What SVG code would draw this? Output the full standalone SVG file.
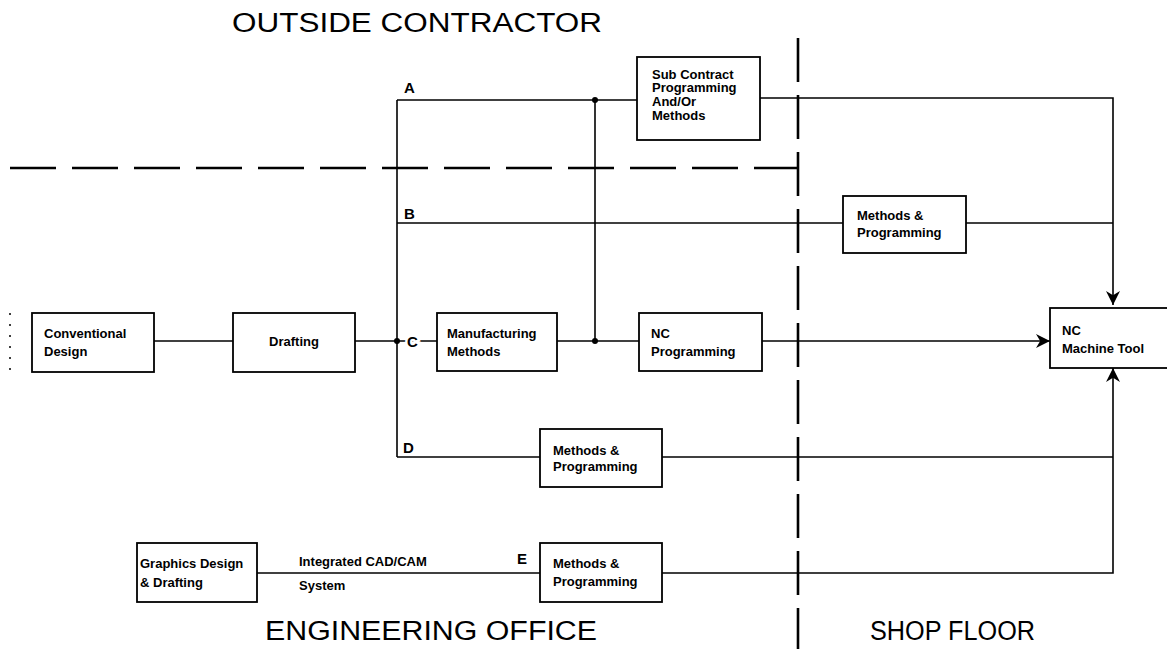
<svg xmlns="http://www.w3.org/2000/svg" width="1167" height="649" viewBox="0 0 1167 649">
<defs>
<marker id="arr" viewBox="0 0 10 10" refX="10" refY="5" markerWidth="14" markerHeight="14" markerUnits="userSpaceOnUse" orient="auto">
<path d="M0,0 L10,5 L0,10 L3,5 Z" fill="#000"/>
</marker>
</defs>
<style>
.box{fill:#fff;stroke:#000;stroke-width:1.8}
.ln{fill:none;stroke:#000;stroke-width:1.6}
.dash{fill:none;stroke:#000;stroke-width:2.6;stroke-dasharray:46 16}
.t{font-family:"Liberation Sans",Arial,sans-serif;font-size:13px;font-weight:bold;fill:#000}
.lbl{font-family:"Liberation Sans",Arial,sans-serif;font-size:15px;font-weight:bold;fill:#000}
.halo{paint-order:stroke;stroke:#fff;stroke-width:5px}
.title{font-family:"Liberation Sans",Arial,sans-serif;font-size:27px;fill:#000}
.dot{fill:#000}
</style>
<rect width="1167" height="649" fill="#fff"/>

<g id="dividers">
<line class="dash" x1="10" y1="168" x2="798" y2="168"/>
<line class="dash" x1="798" y1="38" x2="798" y2="649" style="stroke-dasharray:44 13"/>
<line x1="10" y1="313" x2="10" y2="372" stroke="#000" stroke-width="1.5" stroke-dasharray="2 9"/>
</g>

<g id="titles">
<text class="title" x="232" y="32" textLength="370" lengthAdjust="spacingAndGlyphs">OUTSIDE CONTRACTOR</text>
<text class="title" x="265" y="640" textLength="332" lengthAdjust="spacingAndGlyphs">ENGINEERING OFFICE</text>
<text class="title" x="870" y="640" textLength="165" lengthAdjust="spacingAndGlyphs">SHOP FLOOR</text>
</g>

<g id="connectors">
<polyline class="ln" points="397,100 397,457"/>
<line class="ln" x1="397" y1="100" x2="637" y2="100"/>
<polyline class="ln" points="760,98 1113,98 1113,305" marker-end="url(#arr)"/>
<line class="ln" x1="397" y1="223" x2="843" y2="223"/>
<line class="ln" x1="966" y1="223" x2="1113" y2="223"/>
<line class="ln" x1="154" y1="341" x2="233" y2="341"/>
<line class="ln" x1="355" y1="341" x2="437" y2="341"/>
<line class="ln" x1="557" y1="341" x2="639" y2="341"/>
<line class="ln" x1="595" y1="100" x2="595" y2="341"/>
<line class="ln" x1="762" y1="341" x2="1050" y2="341" marker-end="url(#arr)"/>
<line class="ln" x1="397" y1="457" x2="540" y2="457"/>
<line class="ln" x1="662" y1="457" x2="1113" y2="457"/>
<line class="ln" x1="257" y1="573" x2="540" y2="573"/>
<polyline class="ln" points="662,573 1113,573 1113,368" marker-end="url(#arr)"/>
<circle class="dot" cx="397" cy="341" r="3"/>
<circle class="dot" cx="595" cy="100" r="3"/>
<circle class="dot" cx="595" cy="341" r="3"/>
<text class="lbl" x="404" y="93">A</text>
<text class="lbl" x="404" y="219">B</text>
<text class="lbl halo" x="407" y="347">C</text>
<text class="lbl" x="403" y="453">D</text>
<text class="lbl" x="517" y="564">E</text>
<text class="t" x="299" y="566">Integrated CAD/CAM</text>
<text class="t" x="299" y="590">System</text>
</g>

<g id="conventional-design">
<rect class="box" x="32" y="313" width="122" height="59"/>
<text class="t" x="44" y="338">Conventional</text>
<text class="t" x="44" y="356">Design</text>
</g>
<g id="drafting">
<rect class="box" x="233" y="313" width="122" height="59"/>
<text class="t" x="294" y="346" text-anchor="middle">Drafting</text>
</g>
<g id="manufacturing-methods">
<rect class="box" x="437" y="313" width="120" height="58"/>
<text class="t" x="447" y="338">Manufacturing</text>
<text class="t" x="447" y="356">Methods</text>
</g>
<g id="nc-programming">
<rect class="box" x="639" y="313" width="123" height="58"/>
<text class="t" x="651" y="338">NC</text>
<text class="t" x="651" y="356">Programming</text>
</g>
<g id="subcontract">
<rect class="box" x="637" y="57" width="123" height="83"/>
<text class="t" x="652" y="79">Sub Contract</text>
<text class="t" x="652" y="92">Programming</text>
<text class="t" x="652" y="106">And/Or</text>
<text class="t" x="652" y="120">Methods</text>
</g>
<g id="methods-b">
<rect class="box" x="843" y="196" width="123" height="57"/>
<text class="t" x="857" y="220">Methods &amp;</text>
<text class="t" x="857" y="237">Programming</text>
</g>
<g id="nc-machine-tool">
<rect class="box" x="1050" y="308" width="125" height="60"/>
<text class="t" x="1062" y="335">NC</text>
<text class="t" x="1062" y="353">Machine Tool</text>
</g>
<g id="methods-d">
<rect class="box" x="540" y="429" width="122" height="58"/>
<text class="t" x="553" y="455">Methods &amp;</text>
<text class="t" x="553" y="471">Programming</text>
</g>
<g id="methods-e">
<rect class="box" x="540" y="543" width="122" height="59"/>
<text class="t" x="553" y="568">Methods &amp;</text>
<text class="t" x="553" y="586">Programming</text>
</g>
<g id="graphics-design">
<rect class="box" x="137" y="543" width="120" height="59"/>
<text class="t" x="140" y="568">Graphics Design</text>
<text class="t" x="140" y="587">&amp; Drafting</text>
</g>
</svg>
